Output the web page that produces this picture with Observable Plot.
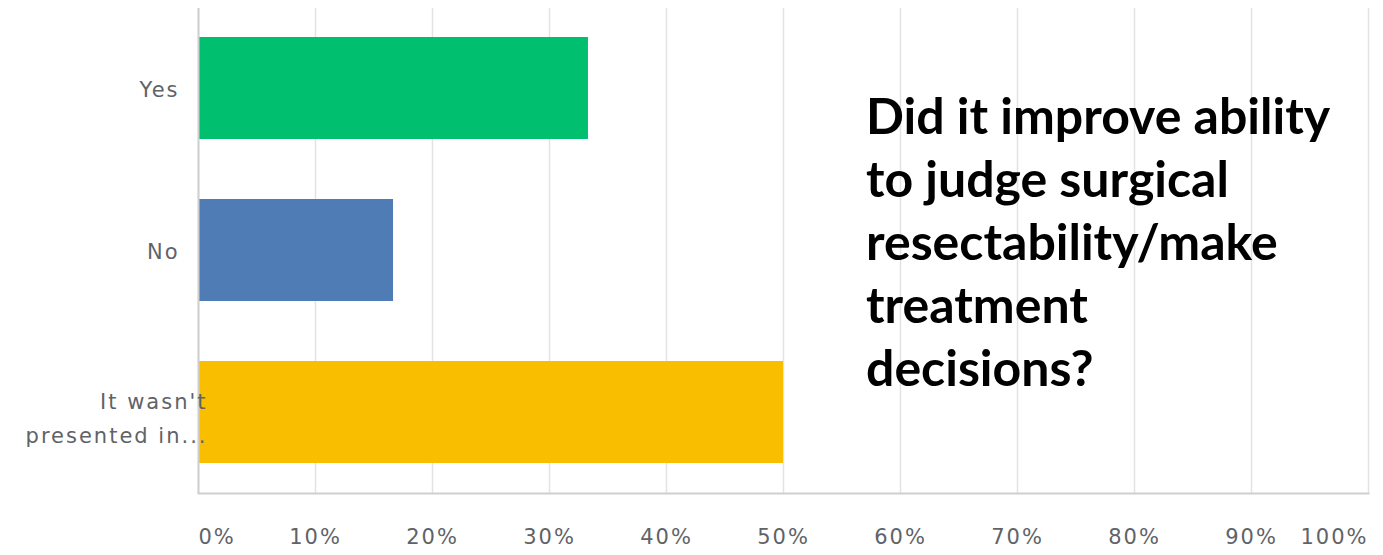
<!DOCTYPE html>
<html>
<head>
<meta charset="utf-8">
<script src="https://cdn.jsdelivr.net/npm/d3@7"></script>
<script src="https://cdn.jsdelivr.net/npm/@observablehq/plot@0.6"></script>
<style>
  html, body { margin: 0; padding: 0; background: #fff; }
  #wrap { position: relative; width: 1383px; height: 555px; }
  #wrap svg g[aria-label$="tick label"] { letter-spacing: 2px; }
  #title {
    position: absolute; left: 866px; top: 84px;
    font-family: Lato, "Open Sans", sans-serif; font-weight: 700;
    font-size: 50px; line-height: 63px; color: #000; letter-spacing: 0px;
    white-space: pre;
  }
</style>
</head>
<body>
<div id="wrap"><div id="title"></div></div>
<script>
const categories = ["Yes", "No", "It wasn't\npresented in..."];
const values = [33.33, 16.67, 50.0];
const colors = ["#00bf6f", "#507cb6", "#f9be00"];
const xTicks = [0, 10, 20, 30, 40, 50, 60, 70, 80, 90, 100];
const titleLines = ["Did it improve ability", "to judge surgical", "resectability/make", "treatment", "decisions?"];

const data = categories.map((c, i) => ({category: c, value: values[i], color: colors[i]}));
const fmt = d => d + "%";
const axisFont = {fontFamily: "DejaVu Sans, sans-serif", fontSize: 21, fill: "#5f6368"};

const chart = Plot.plot({
  width: 1383,
  height: 555,
  marginLeft: 198,
  marginRight: 15,
  marginTop: 8,
  marginBottom: 62,
  style: {background: "#fff"},
  x: {domain: [0, 100], axis: null, label: null},
  y: {domain: categories, paddingInner: 0.37, paddingOuter: 0.18, axis: null, label: null},
  marks: [
    Plot.gridX(xTicks, {stroke: "#e3e3e3", strokeOpacity: 1, strokeWidth: 1.5}),
    Plot.barX(data, {x: "value", y: "category", fill: "color"}),
    Plot.ruleX([0], {stroke: "#cfcfcf", strokeWidth: 2}),
    Plot.frame({anchor: "bottom", stroke: "#cfcfcf", strokeWidth: 2}),
    Plot.axisX(xTicks.slice(0, 1), {tickSize: 0, tickPadding: 36, textAnchor: "start", tickFormat: fmt, label: null, ...axisFont}),
    Plot.axisX(xTicks.slice(1, -1), {tickSize: 0, tickPadding: 36, textAnchor: "middle", tickFormat: fmt, label: null, ...axisFont}),
    Plot.axisX(xTicks.slice(-1), {tickSize: 0, tickPadding: 36, textAnchor: "end", tickFormat: fmt, label: null, ...axisFont}),
    Plot.axisY(categories.slice(0, 2), {tickSize: 0, tickPadding: 19, dy: 2, label: null, ...axisFont}),
    Plot.axisY(categories.slice(2), {tickSize: 0, tickPadding: -9, lineHeight: 1.6, dy: 3, label: null, ...axisFont})
  ]
});
document.getElementById("wrap").prepend(chart);
document.getElementById("title").textContent = titleLines.join("\n");
</script>
</body>
</html>
